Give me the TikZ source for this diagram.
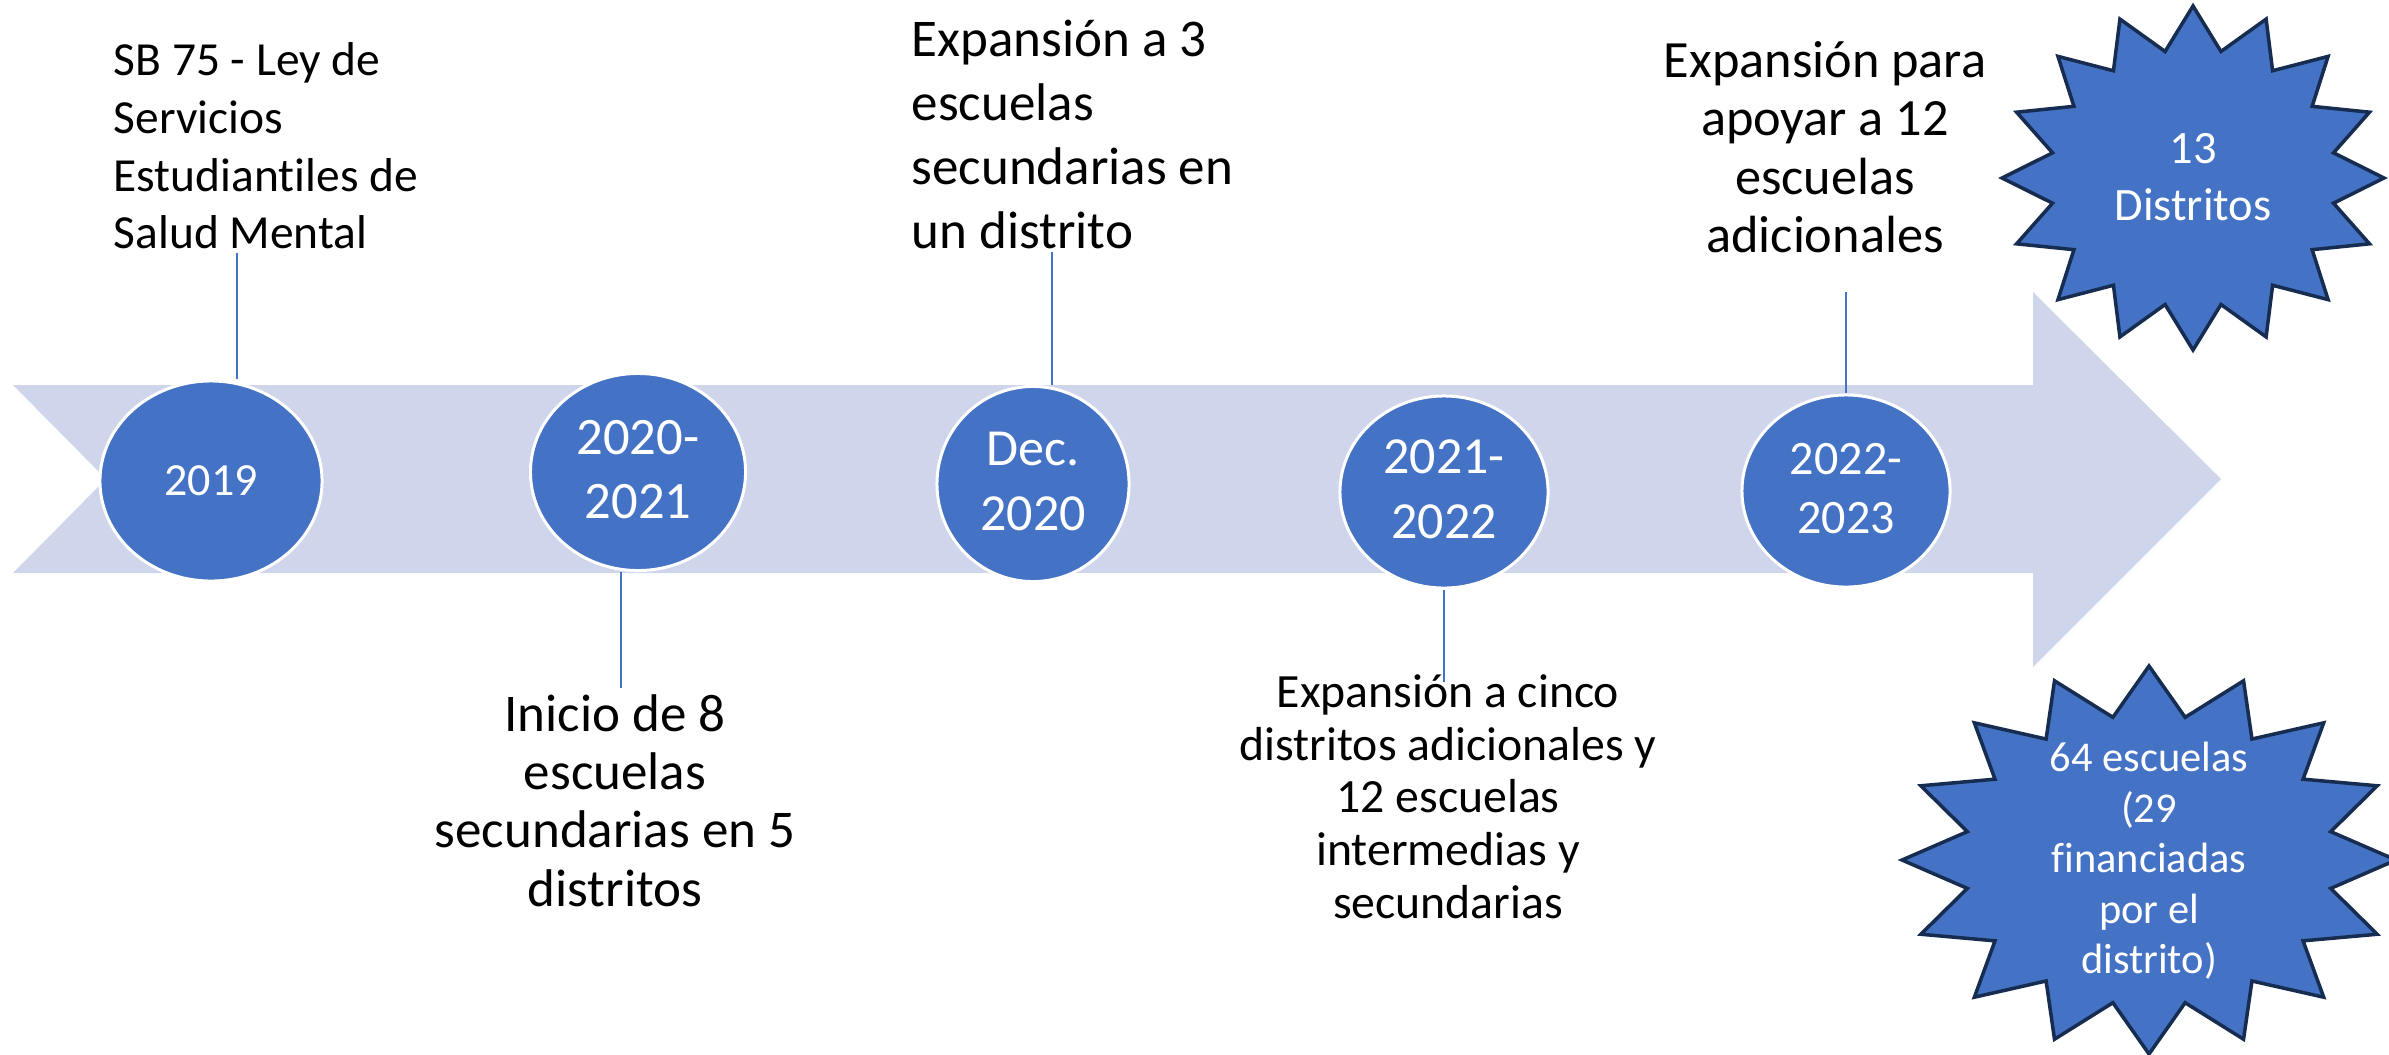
\documentclass[tikz,border=0pt]{standalone}
\usepackage{fontspec}
\setmainfont{Carlito}[Ligatures=NoCommon]
\usetikzlibrary{shapes.geometric,calc}
\definecolor{bandcol}{HTML}{CFD5EA}
\definecolor{accent}{HTML}{4472C4}
\definecolor{starline}{HTML}{172C51}
\newcommand{\fs}[2]{\fontsize{#1}{#2}\selectfont}
\newcommand{\tp}{\rule{0pt}{0.8em}}
\newcommand{\bt}{\rule[-0.25em]{0pt}{0.25em}}
\pgfdeclarelayer{bg}
\pgfsetlayers{bg,main}
\begin{document}
\begin{tikzpicture}[x=0.01cm,y=-0.01cm,
  lbl/.style={inner sep=0pt, text=black},
  yearnode/.style={ellipse, fill=accent, draw=white, line width=0.85pt, inner sep=0pt, text=white, align=center},
  conn/.style={draw=accent, line width=0.7pt},
  starshape/.style={fill=accent, draw=starline, line width=1pt, line join=miter},
  startext/.style={inner sep=0pt, text=white, align=center}]

\useasboundingbox (0,0) rectangle (2389,1054);

% year circles
\node[yearnode, minimum width=2.22cm, minimum height=2.00cm, font=\fs{13.1pt}{16pt}] (y1) at (211,481) {2019};
\node[yearnode, minimum width=2.15cm, minimum height=1.97cm, font=\fs{14.97pt}{18.21pt}] (y2) at (638,472) {\tp 2020-\\2021\bt};
\node[yearnode, minimum width=1.92cm, minimum height=1.95cm, font=\fs{14.8pt}{18.5pt}] (y3) at (1033,484) {\tp Dec.\\2020\bt};
\node[yearnode, minimum width=2.08cm, minimum height=1.92cm, font=\fs{14.8pt}{18.5pt}] (y4) at (1444,492) {\tp 2021-\\2022\bt};
\node[yearnode, minimum width=2.08cm, minimum height=1.92cm, font=\fs{13.66pt}{16.79pt}] (y5) at (1846,491) {\tp 2022-\\2023\bt};

% labels
\node[lbl, anchor=north west, align=left, font=\fs{13.5pt}{16.4pt}] (t1) at (113,37) {\tp SB 75 - Ley de\\Servicios\\Estudiantiles de\\Salud Mental};
\node[lbl, anchor=north, align=center, font=\fs{15.08pt}{16.59pt}] (t2) at (615,688) {\tp Inicio de 8\\escuelas\\secundarias en 5\\distritos};
\node[lbl, anchor=north west, align=left, font=\fs{15.08pt}{18.21pt}] (t3) at (911,13) {\tp Expansión a 3\\escuelas\\secundarias en\\un distrito};
\node[lbl, anchor=north, align=center, font=\fs{13.57pt}{14.94pt}] (t4) at (1448,669) {\tp Expansión a cinco\\distritos adicionales y\\12 escuelas\\intermedias y\\secundarias};
\node[lbl, anchor=north, align=center, font=\fs{14.88pt}{16.59pt}] (t5) at (1825,35) {\tp Expansión para\\apoyar a 12\\escuelas\\adicionales};

% connector ends
\coordinate (a1) at (237,253);
\coordinate (a2) at (621,688);
\coordinate (a3) at (1052,252);
\coordinate (a4) at (1444,682);
\coordinate (a5) at (1846,292);

\begin{pgfonlayer}{bg}
\fill[bandcol] (13,385) -- (2033,385) -- (2033,292) -- (2221,479) -- (2033,667) -- (2033,573) -- (13,573) -- (106,479) -- cycle;
\draw[conn] (a1) -- (a1 |- y1.north);
\draw[conn] (a2 |- y2.south) -- (a2);
\draw[conn] (a3) -- (a3 |- y3.north);
\draw[conn] (a4 |- y4.south) -- (a4);
\draw[conn] (a5) -- (a5 |- y5.north);
\end{pgfonlayer}

% stars
\draw[starshape] (2193,{178-172}) \foreach \k in {0,...,15}{
  -- ({2193+0.75*191*cos(90+11.25+\k*22.5)},{178-0.75*172*sin(90+11.25+\k*22.5)})
  -- ({2193+191*cos(90+(\k+1)*22.5)},{178-172*sin(90+(\k+1)*22.5)}) } -- cycle;
\node[startext, font=\fs{13.2pt}{16.2pt}] (s1) at (2193,179) {\tp 13\\Distritos\bt};

\draw[starshape] (2149,{860-194}) \foreach \k in {0,...,15}{
  -- ({2149+0.75*247*cos(90+11.25+\k*22.5)},{860-0.75*194*sin(90+11.25+\k*22.5)})
  -- ({2149+247*cos(90+(\k+1)*22.5)},{860-194*sin(90+(\k+1)*22.5)}) } -- cycle;
\node[startext, font=\fs{12.06pt}{14.37pt}] (s2) at (2149,861) {\tp 64 escuelas\\(29\\financiadas\\por el\\distrito)\bt};
\end{tikzpicture}
\end{document}
